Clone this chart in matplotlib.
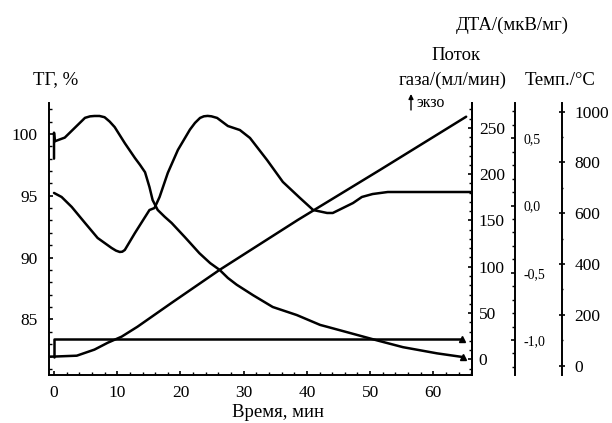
import matplotlib.pyplot as plt
from matplotlib.ticker import MultipleLocator, FuncFormatter

plt.rcParams['font.family'] = ['Liberation Serif', 'DejaVu Serif']

# time axis, min
tg_time = [0, 0, 0.1, 1.7, 3.3, 4.9, 5.7, 6.4, 7.2, 8.0, 8.8, 9.6, 10.4, 11.2, 12.0,
           12.8, 13.6, 14.4, 15.1, 15.6, 16.4, 17.5, 18.6, 20.7, 21.5, 23.0, 24.7,
           26.2, 27.5, 28.9, 31.5, 34.6, 38.4, 42.1, 43.2, 46.8, 51.1, 55.2, 60.6,
           64.7]
tg_mass = [98.0, 100.1, 99.4, 99.7, 100.5, 101.3, 101.42, 101.45, 101.45, 101.35,
           101.0, 100.55, 99.9, 99.25, 98.65, 98.05, 97.5, 96.9, 95.7, 94.65, 93.85,
           93.3, 92.8, 91.65, 91.2, 90.35, 89.55, 89.0, 88.35, 87.8, 86.95, 86.0,
           85.35, 84.55, 84.4, 83.9, 83.3, 82.75, 82.25, 81.95]

dta_time = [0, 1.2, 2.8, 4.9, 6.9, 9.1, 9.8, 10.4, 10.8, 11.2, 12.8, 14.4, 15.1,
            15.9, 16.7, 18.0, 19.6, 21.5, 22.3, 23.1, 23.7, 24.3, 24.9, 25.8, 27.5,
            29.4, 31.0, 33.7, 36.2, 38.9, 41.0, 43.2, 44.1, 45.7, 47.3, 48.7, 50.4,
            52.8, 66.0]
dta_signal = [0.094, 0.064, -0.010, -0.129, -0.241, -0.315, -0.335, -0.345, -0.343,
              -0.330, -0.204, -0.085, -0.033, -0.018, 0.064, 0.243, 0.414, 0.565,
              0.615, 0.652, 0.664, 0.667, 0.664, 0.652, 0.592, 0.562, 0.503, 0.339,
              0.176, 0.057, -0.033, -0.055, -0.055, -0.018, 0.019, 0.064, 0.086,
              0.101, 0.101]

temp_time = [-0.6, 3.6, 6.4, 8.5, 10.7, 13.2, 15.9, 18.6, 26.2, 38.6, 51.6, 65.2]
temp_c = [35, 39, 63, 90, 114, 153, 200, 247, 377, 574, 771, 980]

gas_time = [0, 0, 64.5]
gas_flow = [2.5, 22, 22]

fig = plt.figure(figsize=(6.12, 4.23), dpi=100)
ax = fig.add_axes([0.080, 0.1135, 0.691, 0.643])
ax2 = ax.twinx()
ax3 = ax.twinx()
ax4 = ax.twinx()

line = dict(color='black', lw=1.8, solid_joinstyle='round', solid_capstyle='round')
ax.plot(tg_time, tg_mass, **line)
ax.plot(tg_time[-1], tg_mass[-1], marker='^', color='black', ms=5)
ax2.plot(gas_time, gas_flow, **line)
ax2.plot(gas_time[-1], gas_flow[-1], marker='^', color='black', ms=5)
ax3.plot(dta_time, dta_signal, **line)
ax4.plot(temp_time, temp_c, **line)

ax.set_xlim(-0.8, 66.1)
ax.set_ylim(80.5, 102.5)
ax2.set_ylim(-17, 277)
ax3.set_ylim(-1.26, 0.763)
ax4.set_ylim(-37, 1034)

ax.spines['top'].set_visible(False)
for a in (ax2, ax3, ax4):
    for s in ('top', 'bottom', 'left'):
        a.spines[s].set_visible(False)
ax3.spines['right'].set_position(('axes', 1.1017))
ax4.spines['right'].set_position(('axes', 1.2128))
for a in (ax, ax2, ax3, ax4):
    for s in a.spines.values():
        s.set_linewidth(1.4)

ax.xaxis.set_major_locator(MultipleLocator(10))
ax.xaxis.set_minor_locator(MultipleLocator(2))
ax.yaxis.set_major_locator(MultipleLocator(5))
ax.yaxis.set_minor_locator(MultipleLocator(1))
ax2.yaxis.set_major_locator(MultipleLocator(50))
ax2.yaxis.set_minor_locator(MultipleLocator(10))
ax3.yaxis.set_major_locator(MultipleLocator(0.5))
ax3.yaxis.set_minor_locator(MultipleLocator(0.1))
ax3.yaxis.set_major_formatter(FuncFormatter(lambda v, p: f"{v:.1f}".replace('.', ',')))
ax4.yaxis.set_major_locator(MultipleLocator(200))
ax4.yaxis.set_minor_locator(MultipleLocator(100))

ts = 12.5
ax.tick_params(axis='x', which='major', direction='in', length=3, width=1.2,
               labelsize=ts, pad=7)
ax.tick_params(axis='y', which='major', direction='in', length=3, width=1.2,
               labelsize=ts, pad=8)
ax.tick_params(which='minor', direction='in', length=2, width=1)
ax2.tick_params(which='major', direction='in', length=3, width=1.2, labelsize=ts, pad=5)
ax2.tick_params(which='minor', direction='in', length=2, width=1)
ax3.tick_params(which='major', direction='in', length=3, width=1.2, labelsize=10, pad=6)
ax3.tick_params(which='minor', direction='in', length=2, width=1)
ax4.tick_params(which='major', direction='inout', length=4, width=1.2, labelsize=ts, pad=7)
ax4.tick_params(which='minor', direction='inout', length=2, width=1)

# axis captions
fs = 13.5
fig.text(33 / 612, 1 - 80 / 423, 'ТГ, %', fontsize=fs, va='center', ha='left')
fig.text(456 / 612, 1 - 55 / 423, 'Поток', fontsize=fs, va='center', ha='center')
fig.text(453 / 612, 1 - 80 / 423, 'газа/(мл/мин)', fontsize=fs, va='center', ha='center')
fig.text(560 / 612, 1 - 80 / 423, 'Темп./°C', fontsize=fs, va='center', ha='center')
fig.text(512 / 612, 1 - 25 / 423, 'ДТА/(мкВ/мг)', fontsize=fs, va='center', ha='center')
fig.text(417 / 612, 1 - 103 / 423, 'экзо', fontsize=11.5, va='center', ha='left')
fig.text(278 / 612, 1 - 412 / 423, 'Время, мин', fontsize=fs, va='center', ha='center')
ax.annotate('', xy=(411 / 612, 1 - 94 / 423), xytext=(411 / 612, 1 - 110 / 423),
            xycoords='figure fraction', textcoords='figure fraction',
            arrowprops=dict(arrowstyle='-|>', color='black', lw=1.0,
                            mutation_scale=7, shrinkA=0, shrinkB=0))

plt.savefig('out.png', dpi=100)
